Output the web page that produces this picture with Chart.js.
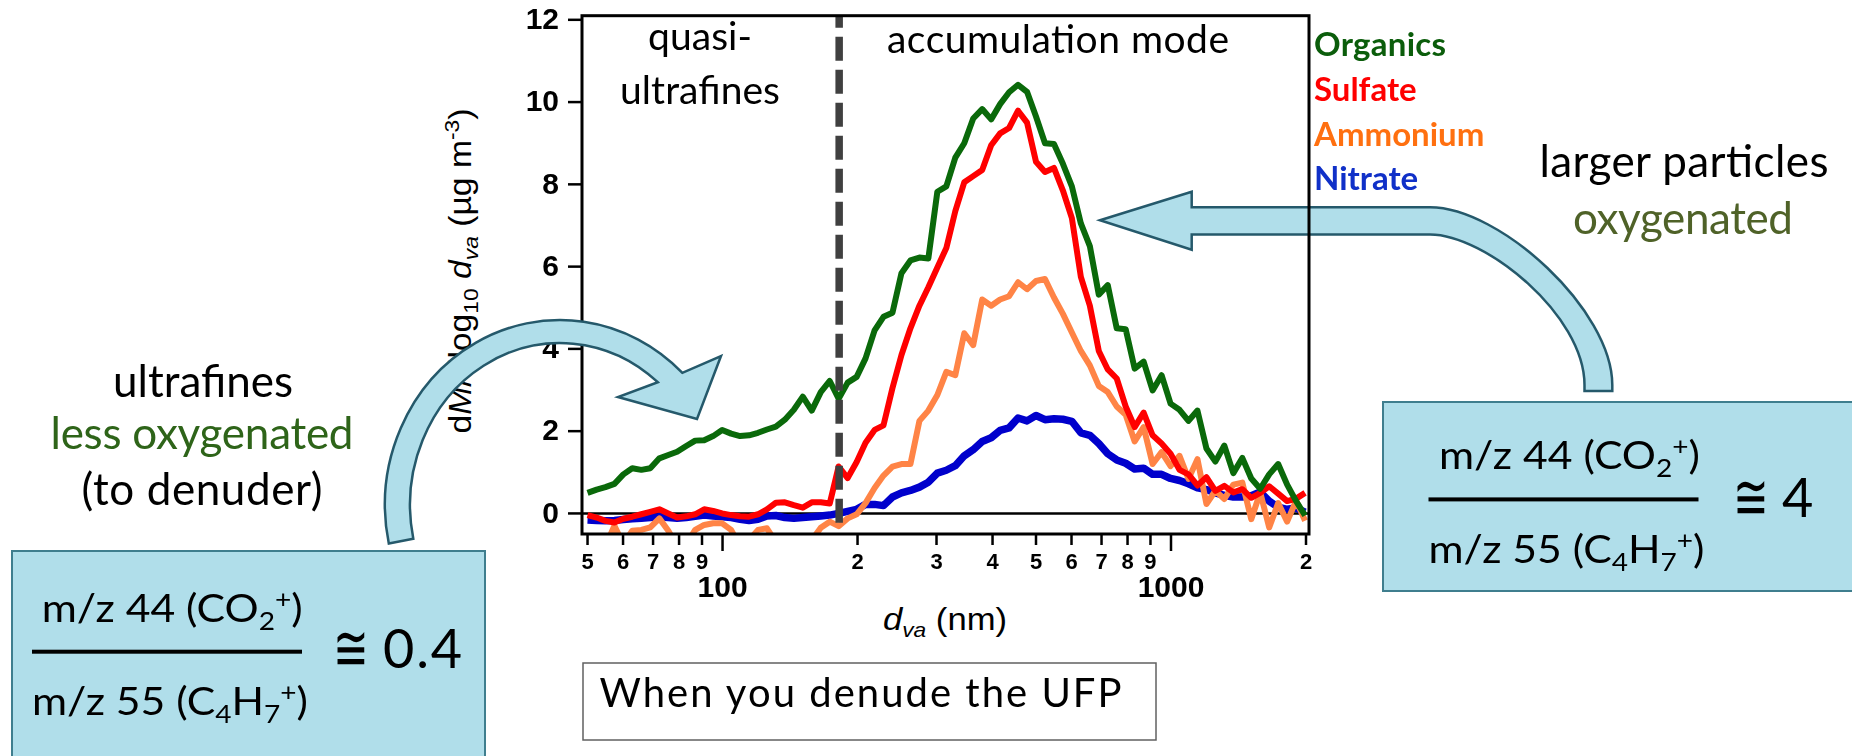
<!DOCTYPE html>
<html>
<head>
<meta charset="utf-8">
<script src="https://cdn.jsdelivr.net/npm/chart.js@4.4.0/dist/chart.umd.min.js"></script>
<style>
  html, body { margin: 0; padding: 0; background: #fff; }
  #wrap { position: relative; width: 1852px; height: 756px; overflow: hidden; }
  #wrap svg, #wrap canvas { position: absolute; left: 0; top: 0; }
  .ann { font-family: Lato, "Open Sans", sans-serif; }
  .ax { font-family: "Liberation Sans", Arial, sans-serif; }
</style>
</head>
<body>
<div id="wrap">
  <!-- under the chart: axis titles and the right arrow (the plot frame is drawn over it) -->
  <svg id="under" width="1852" height="756">
    <text class="ax" transform="translate(471,271) rotate(-90)" text-anchor="middle" font-size="31" textLength="325" lengthAdjust="spacingAndGlyphs">d<tspan font-style="italic">M</tspan>/dlog<tspan font-size="21" dy="7">10</tspan><tspan dy="-7"> </tspan><tspan font-style="italic">d</tspan><tspan font-style="italic" font-size="21" dy="7">va</tspan><tspan dy="-7"> (µg m</tspan><tspan font-size="21" dy="-12">-3</tspan><tspan dy="12">)</tspan></text>
    <text class="ax" x="945" y="630" text-anchor="middle" font-size="32" textLength="124" lengthAdjust="spacingAndGlyphs"><tspan font-style="italic">d</tspan><tspan font-style="italic" font-size="21" dy="7">va</tspan><tspan dy="-7"> (nm)</tspan></text>
    <path d="M1100,220.2 L1191.7,191.8 L1191.7,207.3 L1430,207.3 C1500,207.3 1612.3,310 1612.3,385 L1612.3,391 L1584.5,391 L1584.5,385 C1584.5,315 1485,234.4 1430,234.4 L1191.7,234.4 L1191.7,249.7 Z"
          fill="#b0deea" stroke="#25596b" stroke-width="2.5" stroke-linejoin="miter"/>
  </svg>

  <canvas id="chart" width="1852" height="756"></canvas>

  <svg id="over" width="1852" height="756">
    <path d="M388.8,543.5 A175,185 0 0 1 682.4,372.8 L721,356 L697,419 L618,397 L657.8,382.2 A150,162 0 0 0 413.3,538.7 Z"
          fill="#b0deea" stroke="#25596b" stroke-width="2.5"/>

    <g class="ann" fill="#000">
      <text x="700" y="50" text-anchor="middle" font-size="39" textLength="104">quasi-</text>
      <text x="700" y="104" text-anchor="middle" font-size="39" textLength="160">ultrafines</text>
      <text x="887" y="53" font-size="39" textLength="342">accumulation mode</text>

      <text x="1314" y="56" font-size="33" font-weight="bold" fill="#0b5d0b" textLength="132">Organics</text>
      <text x="1314" y="101" font-size="33" font-weight="bold" fill="#ff0000">Sulfate</text>
      <text x="1314" y="146" font-size="33" font-weight="bold" fill="#ff7010">Ammonium</text>
      <text x="1314" y="190" font-size="33" font-weight="bold" fill="#1030c8">Nitrate</text>

      <text x="1684" y="177" text-anchor="middle" font-size="44" textLength="289">larger particles</text>
      <text x="1683" y="234" text-anchor="middle" font-size="44" fill="#4f6228" textLength="220">oxygenated</text>

      <text x="203" y="397" text-anchor="middle" font-size="44" textLength="180">ultrafines</text>
      <text x="202" y="449" text-anchor="middle" font-size="44" fill="#2e6419" textLength="303">less oxygenated</text>
      <text x="202" y="505" text-anchor="middle" font-size="44" textLength="241">(to denuder)</text>
    </g>

    <rect x="12" y="551" width="473" height="230" fill="#b0deea" stroke="#3f7e8e" stroke-width="2"/>
    <g class="ann" fill="#000">
      <text x="41.7" y="621.7" font-size="38" textLength="261" lengthAdjust="spacingAndGlyphs">m/z 44 (CO<tspan font-size="25" dy="8">2</tspan><tspan font-size="25" dy="-22">+</tspan><tspan dy="14">)</tspan></text>
      <rect x="32" y="649.7" width="270" height="4" fill="#000"/>
      <text x="32" y="715" font-size="38" textLength="276" lengthAdjust="spacingAndGlyphs">m/z 55 (C<tspan font-size="25" dy="8">4</tspan><tspan dy="-8">H</tspan><tspan font-size="25" dy="8">7</tspan><tspan font-size="25" dy="-22">+</tspan><tspan dy="14">)</tspan></text>
      <text x="333" y="670" font-size="64" textLength="36" lengthAdjust="spacingAndGlyphs">≅</text>
      <text x="383" y="668" font-size="54" textLength="79">0.4</text>
    </g>

    <rect x="1383" y="402" width="480" height="189" fill="#b0deea" stroke="#3f7e8e" stroke-width="2"/>
    <g class="ann" fill="#000">
      <text x="1439" y="469" font-size="38" textLength="261" lengthAdjust="spacingAndGlyphs">m/z 44 (CO<tspan font-size="25" dy="8">2</tspan><tspan font-size="25" dy="-22">+</tspan><tspan dy="14">)</tspan></text>
      <rect x="1428.5" y="497.4" width="270" height="4" fill="#000"/>
      <text x="1428.5" y="562.6" font-size="38" textLength="276" lengthAdjust="spacingAndGlyphs">m/z 55 (C<tspan font-size="25" dy="8">4</tspan><tspan dy="-8">H</tspan><tspan font-size="25" dy="8">7</tspan><tspan font-size="25" dy="-22">+</tspan><tspan dy="14">)</tspan></text>
      <text x="1733" y="518.6" font-size="64" textLength="36" lengthAdjust="spacingAndGlyphs">≅</text>
      <text x="1782" y="516.6" font-size="54">4</text>
    </g>

    <rect x="583" y="663" width="573" height="77" fill="#fff" stroke="#606060" stroke-width="1.5"/>
    <text class="ann" x="599.5" y="707" font-size="40" textLength="522">When you denude the UFP</text>
  </svg>
</div>

<script>
// vacuum aerodynamic diameter, nm (log spaced bins)
const diameters = [50.0, 52.4, 54.8, 57.4, 60.1, 62.9, 65.9, 69.0, 72.3, 75.7,
  79.2, 83.0, 86.9, 91.0, 95.3, 99.8, 104.5, 109.4, 114.6, 120.0,
  125.6, 131.5, 137.7, 144.2, 151.0, 158.1, 165.6, 173.4, 181.5, 190.1,
  199.1, 208.4, 218.3, 228.5, 239.3, 250.6, 262.4, 274.8, 287.7, 301.3,
  315.5, 330.4, 345.9, 362.2, 379.3, 397.2, 415.9, 435.5, 456.0, 477.5,
  500.0, 523.6, 548.3, 574.1, 601.1, 629.5, 659.2, 690.2, 722.8, 756.8,
  792.4, 829.8, 868.9, 909.9, 952.8, 997.7, 1044.7, 1093.9, 1145.5, 1199.5,
  1255.9, 1315.1, 1377.1, 1442.0, 1510.0, 1581.1, 1655.6, 1733.7, 1815.4, 1901.0,
  1990.5];

// dM/dlog10 dva, ug m-3
const organics = [0.50, 0.58, 0.64, 0.72, 0.95, 1.10, 1.06, 1.10, 1.34, 1.42,
  1.50, 1.64, 1.77, 1.78, 1.88, 2.03, 1.94, 1.88, 1.90, 1.96,
  2.04, 2.11, 2.28, 2.52, 2.84, 2.50, 2.95, 3.22, 2.79, 3.18,
  3.32, 3.77, 4.45, 4.78, 4.88, 5.84, 6.15, 6.22, 6.20, 7.82,
  7.95, 8.65, 9.00, 9.60, 9.83, 9.58, 9.95, 10.24, 10.42, 10.25,
  9.65, 9.00, 8.98, 8.50, 7.95, 7.05, 6.50, 5.32, 5.55, 4.50,
  4.48, 3.52, 3.69, 2.99, 3.36, 2.67, 2.52, 2.25, 2.50, 1.58,
  1.26, 1.65, 0.98, 1.35, 0.85, 0.60, 0.95, 1.20, 0.70, 0.30,
  -0.05];

const sulfate = [-0.04, -0.10, -0.18, -0.22, -0.13, -0.08, -0.02, 0.04, 0.10, 0.00,
  -0.10, -0.07, -0.02, 0.10, 0.06, 0.00, -0.04, -0.07, -0.08, -0.02,
  0.10, 0.26, 0.27, 0.20, 0.14, 0.27, 0.27, 0.24, 1.14, 0.86,
  1.25, 1.72, 2.03, 2.14, 3.05, 3.85, 4.50, 5.05, 5.50, 5.98,
  6.45, 7.35, 8.05, 8.20, 8.35, 8.95, 9.24, 9.37, 9.79, 9.50,
  8.55, 8.30, 8.40, 7.85, 7.18, 5.75, 5.05, 3.95, 3.50, 3.28,
  2.60, 2.10, 2.45, 1.90, 1.70, 1.45, 1.06, 0.95, 0.68, 0.88,
  0.55, 0.67, 0.51, 0.59, 0.38, 0.50, 0.66, 0.48, 0.30, 0.36,
  0.50];

const ammonium = [-0.75, -0.85, -0.80, -0.30, -0.75, -0.42, -0.40, -0.34, -0.12, -0.42,
  -0.80, -0.75, -0.40, -0.28, -0.24, -0.24, -0.40, -0.80, -0.65, -0.40,
  -0.36, -0.70, -0.90, -0.90, -0.90, -0.65, -0.35, -0.20, -0.31, -0.12,
  -0.02, 0.25, 0.62, 0.92, 1.14, 1.20, 1.20, 2.25, 2.50, 2.88,
  3.44, 3.36, 4.38, 4.09, 5.20, 5.05, 5.20, 5.28, 5.62, 5.45,
  5.65, 5.70, 5.25, 4.85, 4.40, 3.95, 3.60, 3.10, 2.95, 2.60,
  2.40, 1.75, 2.10, 1.20, 1.49, 1.15, 1.40, 0.84, 1.32, 0.23,
  0.55, 0.35, 0.70, 0.75, -0.14, 0.51, -0.34, 0.25, -0.20, 0.31,
  -0.18];

const nitrate = [-0.16, -0.17, -0.18, -0.17, -0.15, -0.13, -0.12, -0.10, -0.08, -0.10,
  -0.12, -0.10, -0.07, -0.04, -0.06, -0.08, -0.10, -0.14, -0.17, -0.14,
  -0.06, -0.05, -0.10, -0.12, -0.10, -0.08, -0.06, -0.04, 0.00, 0.05,
  0.10, 0.22, 0.22, 0.19, 0.40, 0.50, 0.56, 0.64, 0.76, 0.98,
  1.05, 1.16, 1.40, 1.55, 1.75, 1.84, 2.02, 2.08, 2.32, 2.25,
  2.38, 2.28, 2.30, 2.29, 2.24, 1.96, 1.90, 1.70, 1.45, 1.30,
  1.22, 1.08, 1.10, 0.95, 0.95, 0.85, 0.80, 0.72, 0.62, 0.58,
  0.50, 0.44, 0.40, 0.40, 0.43, 0.52, 0.30, 0.15, 0.10, 0.13,
  0.03];

// quasi-ultrafine / accumulation mode divider
const dividerSize = 182;
const dividerRange = [12.1, -0.28];

const yTicks = [0, 2, 4, 6, 8, 10, 12];
const xMinorTicks = [50, 60, 70, 80, 90, 200, 300, 400, 500, 600, 700, 800, 900, 2000];
const xMinorLabels = ['5', '6', '7', '8', '9', '2', '3', '4', '5', '6', '7', '8', '9', '2'];
const xMajorTicks = [100, 1000];
const xMajorLabels = ['100', '1000'];

function pairs(ys) {
  return diameters.map((d, i) => ({ x: d, y: ys[i] }));
}

const axisFont = '"Liberation Sans", Arial, sans-serif';

const igorAxes = {
  id: 'igorAxes',
  beforeDatasetsDraw(chart) {
    const { ctx, chartArea: a, scales: { y } } = chart;
    const y0 = y.getPixelForValue(0);
    ctx.save();
    ctx.strokeStyle = '#000';
    ctx.lineWidth = 2.5;
    ctx.beginPath();
    ctx.moveTo(a.left, y0);
    ctx.lineTo(a.right, y0);
    ctx.stroke();
    ctx.restore();
  },
  afterDatasetsDraw(chart) {
    const { ctx, chartArea: a, scales: { x, y } } = chart;
    ctx.save();
    ctx.strokeStyle = '#000';
    ctx.fillStyle = '#000';
    ctx.lineWidth = 3;
    ctx.strokeRect(a.left, a.top, a.right - a.left, a.bottom - a.top);

    ctx.lineWidth = 2.5;
    ctx.font = 'bold 30px ' + axisFont;
    ctx.textAlign = 'right';
    ctx.textBaseline = 'middle';
    yTicks.forEach(v => {
      const py = y.getPixelForValue(v);
      ctx.beginPath();
      ctx.moveTo(a.left - 14, py);
      ctx.lineTo(a.left, py);
      ctx.stroke();
      ctx.fillText(String(v), a.left - 23, py + 1);
    });

    ctx.textAlign = 'center';
    ctx.textBaseline = 'alphabetic';
    ctx.font = 'bold 22px ' + axisFont;
    xMinorTicks.forEach((v, i) => {
      const px = x.getPixelForValue(v);
      ctx.beginPath();
      ctx.moveTo(px, a.bottom);
      ctx.lineTo(px, a.bottom + 11);
      ctx.stroke();
      ctx.fillText(xMinorLabels[i], px, 568.5);
    });
    ctx.font = 'bold 30px ' + axisFont;
    xMajorTicks.forEach((v, i) => {
      const px = x.getPixelForValue(v);
      ctx.beginPath();
      ctx.moveTo(px, a.bottom);
      ctx.lineTo(px, a.bottom + 17);
      ctx.stroke();
      ctx.fillText(xMajorLabels[i], px, 597);
    });
    ctx.restore();
  }
};

new Chart(document.getElementById('chart'), {
  type: 'line',
  data: {
    datasets: [
      {
        label: 'divider',
        data: dividerRange.map(v => ({ x: dividerSize, y: v })),
        borderColor: '#404040',
        borderWidth: 7.5,
        borderDash: [24, 9],
        borderDashOffset: 12,
        borderCapStyle: 'butt',
        pointRadius: 0
      },
      { label: 'Organics', data: pairs(organics), borderColor: '#0a690a', borderWidth: 6, pointRadius: 0, borderJoinStyle: 'round' },
      { label: 'Sulfate', data: pairs(sulfate), borderColor: '#ff0000', borderWidth: 6, pointRadius: 0, borderJoinStyle: 'round' },
      { label: 'Ammonium', data: pairs(ammonium), borderColor: '#ff8446', borderWidth: 6, pointRadius: 0, borderJoinStyle: 'round' },
      { label: 'Nitrate', data: pairs(nitrate), borderColor: '#0000cc', borderWidth: 7.5, pointRadius: 0, borderJoinStyle: 'round' }
    ]
  },
  options: {
    responsive: false,
    animation: false,
    events: [],
    layout: { padding: { left: 582, top: 15.7, right: 543, bottom: 222 } },
    elements: { line: { tension: 0, fill: false } },
    scales: {
      x: { type: 'logarithmic', min: 48.6, max: 2031, display: false },
      y: { type: 'linear', min: -0.5, max: 12.1, display: false }
    },
    plugins: { legend: { display: false }, tooltip: { enabled: false } }
  },
  plugins: [igorAxes]
});
</script>
</body>
</html>
